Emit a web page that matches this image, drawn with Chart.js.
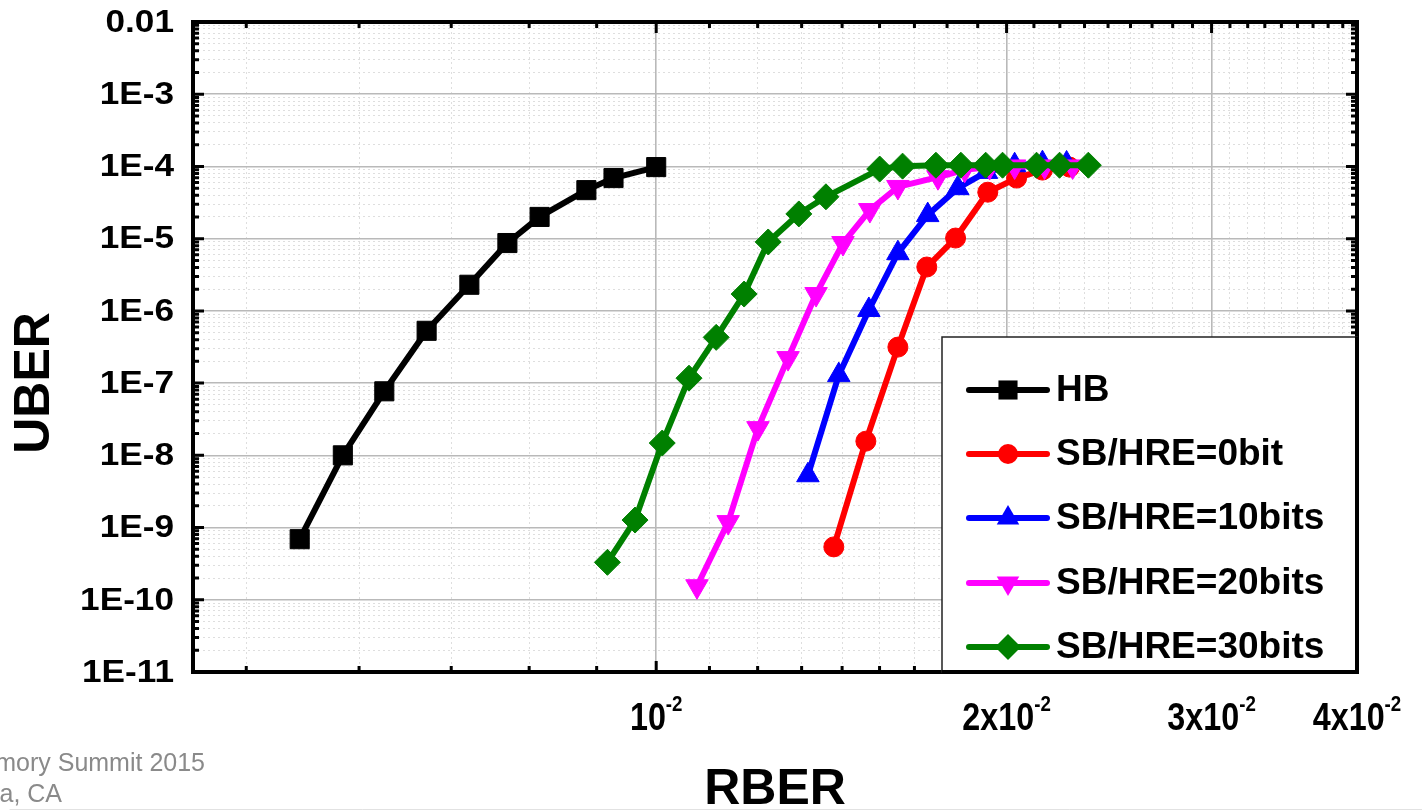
<!DOCTYPE html>
<html>
<head>
<meta charset="utf-8">
<script src="https://cdn.jsdelivr.net/npm/chart.js@4.4.1/dist/chart.umd.min.js"></script>
<style>
  body { margin: 0; background: #fff; }
  canvas { display: block; }
</style>
</head>
<body>
<canvas id="uberChart" width="1422" height="811"></canvas>
<script>
// RBER values (x) and UBER values (y)
const hbRber = [0.00494, 0.00538, 0.00584, 0.00635, 0.00691, 0.00745, 0.00794, 0.00871, 0.00919, 0.0100];
const hbUber = [6.9e-10, 1.0e-8, 7.7e-8, 5.3e-7, 2.3e-6, 8.7e-6, 2.0e-5, 4.7e-5, 6.9e-5, 9.8e-5];

const sb0Rber = [0.01421, 0.01514, 0.01613, 0.01708, 0.01808, 0.01927, 0.0204, 0.02147, 0.02265];
const sb0Uber = [5.4e-10, 1.57e-8, 3.15e-7, 4.05e-6, 1.02e-5, 4.4e-5, 6.9e-5, 8.9e-5, 9.8e-5];

const sb10Rber = [0.0135, 0.01435, 0.01523, 0.01613, 0.01711, 0.01816, 0.01922, 0.02032, 0.02147, 0.02252];
const sb10Uber = [5.3e-9, 1.29e-7, 1.03e-6, 6.3e-6, 2.12e-5, 5.0e-5, 8.4e-5, 1.04e-4, 1.11e-4, 1.1e-4];

const sb20Rber = [0.01084, 0.01153, 0.01223, 0.01298, 0.01372, 0.01447, 0.01526, 0.01613, 0.01746, 0.01841, 0.01934, 0.02032, 0.02156, 0.02279];
const sb20Uber = [1.54e-10, 1.19e-9, 2.38e-8, 2.22e-7, 1.71e-6, 8.7e-6, 2.49e-5, 5.2e-5, 7.1e-5, 9.0e-5, 9.8e-5, 1.0e-4, 1.0e-4, 1.0e-4];

const sb30Rber = [0.00908, 0.00959, 0.01012, 0.01067, 0.01126, 0.0119, 0.01248, 0.01326, 0.01399, 0.01556, 0.01628, 0.01739, 0.01827, 0.01919, 0.01984, 0.02122, 0.02221, 0.02351];
const sb30Uber = [3.3e-10, 1.27e-9, 1.48e-8, 1.17e-7, 4.3e-7, 1.71e-6, 9.0e-6, 2.2e-5, 3.8e-5, 9.2e-5, 1.01e-4, 1.04e-4, 1.04e-4, 1.04e-4, 1.04e-4, 1.04e-4, 1.04e-4, 1.04e-4];

const seriesLabels = ['HB', 'SB/HRE=0bit', 'SB/HRE=10bits', 'SB/HRE=20bits', 'SB/HRE=30bits'];

// axis ticks
const xMajorTicks = [0.01, 0.02, 0.03, 0.04];
const xTickLabels = ['10', '2x10', '3x10', '4x10'];
const xTickExponent = '-2';
const xMinorStep = 0.01 / 9;
const yMajorTicks = [1e-11, 1e-10, 1e-9, 1e-8, 1e-7, 1e-6, 1e-5, 1e-4, 1e-3, 1e-2];
const yTickLabels = ['1E-11', '1E-10', '1E-9', '1E-8', '1E-7', '1E-6', '1E-5', '1E-4', '1E-3', '0.01'];

const FONT = '"Liberation Sans", Arial, sans-serif';

const toPoints = (xs, ys) => xs.map((x, i) => ({ x: x, y: ys[i] }));

function makeSeries(label, xs, ys, color, style, rotation, radius, order) {
    return {
        label: label,
        data: toPoints(xs, ys),
        borderColor: color,
        backgroundColor: color,
        borderWidth: 6,
        pointStyle: style,
        rotation: rotation,
        pointRadius: radius,
        pointBorderWidth: 1,
        pointBorderColor: color,
        pointBackgroundColor: color,
        borderJoinStyle: 'round',
        order: order
    };
}

const datasets = [
    makeSeries(seriesLabels[0], hbRber, hbUber, '#000000', 'rect', 0, 13.5, 4),
    makeSeries(seriesLabels[1], sb0Rber, sb0Uber, '#ff0000', 'circle', 0, 10, 3),
    makeSeries(seriesLabels[2], sb10Rber, sb10Uber, '#0000ff', 'triangle', 0, 13, 2),
    makeSeries(seriesLabels[3], sb20Rber, sb20Uber, '#ff00ff', 'triangle', 180, 13, 1),
    makeSeries(seriesLabels[4], sb30Rber, sb30Uber, '#008000', 'rectRot', 0, 13, 0)
];

function buildXTicks(scale) {
    let ticks = [];
    for (let k = 4; k <= 36; k++) {
        ticks.push({ value: k * xMinorStep, major: k % 9 === 0 });
    }
    scale.ticks = ticks;
}

function buildYTicks(scale) {
    let ticks = [];
    yMajorTicks.forEach((v, i) => {
        ticks.push({ value: v, major: true });
        if (i < yMajorTicks.length - 1) {
            for (let k = 2; k <= 9; k++) ticks.push({ value: k * v, major: false });
        }
    });
    scale.ticks = ticks;
}

const gridOpts = {
    drawTicks: false,
    color: (c) => (c.tick && c.tick.major) ? '#b9b9b9' : '#dedede',
    lineWidth: (c) => (c.tick && c.tick.major) ? 1.6 : 1
};
const borderOpts = {
    display: false,
    dash: (c) => (c.tick && c.tick.major) ? [] : [2, 3]
};

// text drawn with an optional horizontal stretch
function drawText(ctx, text, x, y, font, align, sx) {
    ctx.save();
    ctx.font = font;
    ctx.textAlign = align;
    ctx.textBaseline = 'middle';
    ctx.translate(x, y);
    ctx.scale(sx || 1, 1);
    ctx.fillText(text, 0, 0);
    ctx.restore();
}

function drawMarker(ctx, style, rotation, r, x, y, color) {
    ctx.save();
    ctx.fillStyle = color;
    ctx.beginPath();
    if (style === 'rect') {
        let s = Math.SQRT1_2 * r;
        ctx.rect(x - s, y - s, 2 * s, 2 * s);
    } else if (style === 'circle') {
        ctx.arc(x, y, r, 0, Math.PI * 2);
    } else if (style === 'triangle') {
        let rad = rotation * Math.PI / 180;
        for (let i = 0; i < 3; i++) {
            let a = rad + i * 2 * Math.PI / 3;
            let px = x + Math.sin(a) * r, py = y - Math.cos(a) * r;
            if (i === 0) ctx.moveTo(px, py); else ctx.lineTo(px, py);
        }
        ctx.closePath();
    } else {
        ctx.moveTo(x - r, y); ctx.lineTo(x, y - r); ctx.lineTo(x + r, y); ctx.lineTo(x, y + r);
        ctx.closePath();
    }
    ctx.fill();
    ctx.restore();
}

const framePlugin = {
    id: 'frame',
    afterDatasetsDraw(chart) {
        const ctx = chart.ctx;
        const a = chart.chartArea;
        const xs = chart.scales.x, ys = chart.scales.y;
        ctx.save();
        ctx.strokeStyle = '#000';
        ctx.lineWidth = 3;
        // inward ticks on all four sides
        xs.ticks.forEach(t => {
            let px = xs.getPixelForValue(t.value);
            let len = t.major ? 11 : 6;
            ctx.beginPath();
            ctx.moveTo(px, a.bottom); ctx.lineTo(px, a.bottom - len);
            ctx.moveTo(px, a.top); ctx.lineTo(px, a.top + len);
            ctx.stroke();
        });
        ys.ticks.forEach(t => {
            let py = ys.getPixelForValue(t.value);
            let len = t.major ? 11 : 6;
            ctx.beginPath();
            ctx.moveTo(a.left, py); ctx.lineTo(a.left + len, py);
            ctx.moveTo(a.right, py); ctx.lineTo(a.right - len, py);
            ctx.stroke();
        });
        ctx.lineWidth = 4;
        ctx.strokeRect(a.left, a.top, a.right - a.left, a.bottom - a.top);
        ctx.restore();
    },
    afterDraw(chart) {
        const ctx = chart.ctx;
        const a = chart.chartArea;
        const xs = chart.scales.x, ys = chart.scales.y;
        ctx.save();
        ctx.fillStyle = '#000';

        // y tick labels
        yMajorTicks.forEach((v, i) => {
            drawText(ctx, yTickLabels[i], a.left - 19, ys.getPixelForValue(v) + 1, 'bold 32px ' + FONT, 'right', 1.1);
        });

        // x tick labels with superscript exponent
        xMajorTicks.forEach((v, i) => {
            let px = xs.getPixelForValue(v);
            ctx.font = 'bold 38px ' + FONT;
            let wMain = ctx.measureText(xTickLabels[i]).width * 0.85;
            ctx.font = 'bold 22px ' + FONT;
            let wExp = ctx.measureText(xTickExponent).width * 0.85;
            let start = px - (wMain + wExp) / 2;
            drawText(ctx, xTickLabels[i], start, 720, 'bold 38px ' + FONT, 'left', 0.85);
            drawText(ctx, xTickExponent, start + wMain, 705, 'bold 22px ' + FONT, 'left', 0.85);
        });

        // axis titles
        drawText(ctx, 'RBER', (a.left + a.right) / 2, 790, 'bold 50px ' + FONT, 'center', 1);
        ctx.save();
        ctx.translate(35, 383);
        ctx.rotate(-Math.PI / 2);
        drawText(ctx, 'UBER', 0, 0, 'bold 50px ' + FONT, 'center', 1);
        ctx.restore();

        // legend box in the lower right corner of the plot
        let boxLeft = a.right - 415, boxTop = a.bottom - 335;
        ctx.fillStyle = '#fff';
        ctx.fillRect(boxLeft, boxTop, a.right - boxLeft, a.bottom - boxTop);
        ctx.strokeStyle = '#222';
        ctx.lineWidth = 1.5;
        ctx.strokeRect(boxLeft, boxTop, a.right - boxLeft, a.bottom - boxTop);
        ctx.lineWidth = 4;
        ctx.strokeStyle = '#000';
        ctx.beginPath();
        ctx.moveTo(a.right, boxTop); ctx.lineTo(a.right, a.bottom);
        ctx.lineTo(boxLeft, a.bottom);
        ctx.stroke();

        const rowOffsets = [282, 218, 154, 89, 25];
        chart.data.datasets.forEach((ds, i) => {
            let y = a.bottom - rowOffsets[i];
            ctx.strokeStyle = ds.borderColor;
            ctx.lineWidth = 6;
            ctx.lineCap = 'round';
            ctx.beginPath();
            ctx.moveTo(boxLeft + 27, y); ctx.lineTo(boxLeft + 105, y);
            ctx.stroke();
            drawMarker(ctx, ds.pointStyle, ds.rotation, ds.pointRadius, boxLeft + 66, y, ds.borderColor);
            ctx.fillStyle = '#000';
            drawText(ctx, ds.label, boxLeft + 114, y + 1, 'bold 37px ' + FONT, 'left', 1);
        });

        // slide footer remains
        ctx.fillStyle = '#8a8a8a';
        drawText(ctx, 'Flash Memory Summit 2015', 205, 764, '25px ' + FONT, 'right', 1);
        drawText(ctx, 'Santa Clara, CA', 62, 795, '25px ' + FONT, 'right', 1);
        ctx.strokeStyle = '#e2e2e2';
        ctx.lineWidth = 1;
        ctx.beginPath();
        ctx.moveTo(10, 809.5); ctx.lineTo(1422, 809.5);
        ctx.stroke();
        ctx.restore();
    }
};

const config = {
    type: 'line',
    data: { datasets: datasets },
    options: {
        responsive: false,
        animation: false,
        devicePixelRatio: 1,
        layout: { padding: { left: 0, right: 65, top: 22, bottom: 0 } },
        plugins: {
            legend: { display: false },
            tooltip: { enabled: false }
        },
        scales: {
            x: {
                type: 'logarithmic',
                min: 0.004,
                max: 0.04,
                afterBuildTicks: buildXTicks,
                afterFit: (s) => { s.height = 139; },
                ticks: { display: false, autoSkip: false },
                grid: gridOpts,
                border: borderOpts
            },
            y: {
                type: 'logarithmic',
                min: 1e-11,
                max: 1e-2,
                afterBuildTicks: buildYTicks,
                afterFit: (s) => { s.width = 193; },
                ticks: { display: false, autoSkip: false },
                grid: gridOpts,
                border: borderOpts
            }
        }
    },
    plugins: [framePlugin]
};

new Chart(document.getElementById('uberChart'), config);
</script>
</body>
</html>
